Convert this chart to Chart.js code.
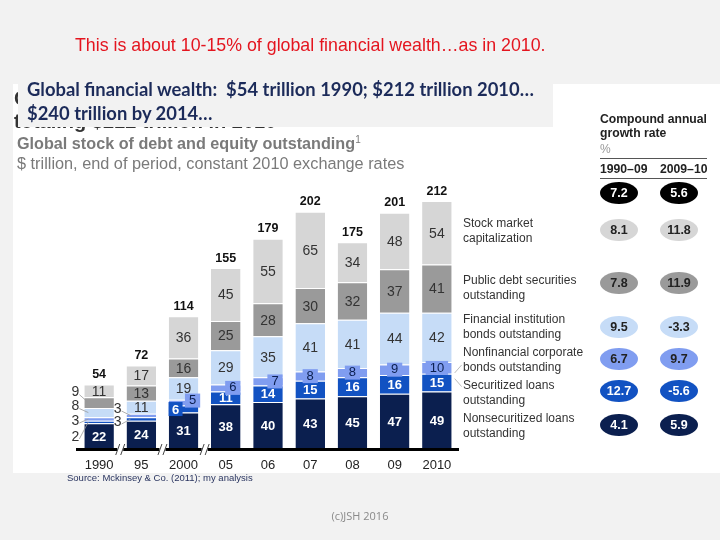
<!DOCTYPE html>
<html>
<head>
<meta charset="utf-8">
<script src="https://cdn.jsdelivr.net/npm/chart.js@4.4.1/dist/chart.umd.min.js"></script>
<style>
  body { margin: 0; width: 720px; height: 540px; background: #f2f2f2; position: relative; overflow: hidden; font-family: "Liberation Sans", Arial, sans-serif; }
  #panel { position: absolute; left: 13px; top: 84px; width: 707px; height: 389px; background: #fff; }
  #c { position: absolute; left: 0; top: 0; }
  .t { position: absolute; white-space: nowrap; }
  .rule { position: absolute; left: 600px; width: 107px; height: 0; border-top: 1px solid #555; }
</style>
</head>
<body>
<div id="panel"></div>
<canvas id="c" width="720" height="540"></canvas>

<!-- old title, mostly hidden behind the grey box -->
<div class="t" style="left:14px;top:87px;font:bold 20px 'Liberation Sans';color:#333;line-height:23px">Global financial wealth<br>totaling $212 trillion in 2010</div>
<div class="t" style="left:18px;top:83px;width:535px;height:44px;background:#f2f2f2"></div>
<div class="t" style="left:27px;top:77px;font:bold 18.4px Lato;color:#1c2b5a;line-height:24px">Global financial wealth:&nbsp; $54 trillion 1990; $212 trillion 2010…<br>$240 trillion by 2014…</div>

<div class="t" style="left:75px;top:35px;font:17.8px 'Liberation Sans';color:#e4151f">This is about 10-15% of global financial wealth…as in 2010.</div>

<div class="t" style="left:17px;top:134px;font:bold 16.2px 'Liberation Sans';color:#7a7a7a;background:#fff">Global stock of debt and equity outstanding<sup style="font-size:10px;font-weight:normal">1</sup></div>
<div class="t" style="left:17px;top:154px;font:16.3px 'Liberation Sans';color:#7a7a7a">$ trillion, end of period, constant 2010 exchange rates</div>

<div class="t" style="left:600px;top:112px;font:bold 12.2px 'Liberation Sans';color:#222;line-height:14px">Compound annual<br>growth rate</div>
<div class="t" style="left:600px;top:142px;font:12px 'Liberation Sans';color:#999">%</div>
<div class="rule" style="top:158px"></div>
<div class="t" style="left:600px;top:162px;font:bold 12.2px 'Liberation Sans';color:#222">1990–09</div>
<div class="t" style="left:660px;top:162px;width:47px;text-align:right;font:bold 12.2px 'Liberation Sans';color:#222">2009–10</div>
<div class="rule" style="top:178px"></div>

<div class="t" style="left:67px;top:472px;font:9.5px 'Liberation Sans';color:#2a3560">Source: Mckinsey &amp; Co. (2011); my analysis</div>
<div class="t" style="left:0;top:508px;width:720px;text-align:center;font:11px 'Open Sans';color:#8a8a8a">(c)JSH 2016</div>

<script>
// values in $ trillion
const years = ['1990', '95', '2000', '05', '06', '07', '08', '09', '2010'];
const nonsecLoans = [22, 24, 31, 38, 40, 43, 45, 47, 49];
const secLoans = [2, 3, 6, 11, 14, 15, 16, 16, 15];
const nonfinBonds = [3, 3, 5, 6, 7, 8, 8, 9, 10];
const finBonds = [8, 11, 19, 29, 35, 41, 41, 44, 42];
const publicDebt = [9, 13, 16, 25, 28, 30, 32, 37, 41];
const stockMarket = [11, 17, 36, 45, 55, 65, 34, 48, 54];
const totals = [54, 72, 114, 155, 179, 202, 175, 201, 212];

const seriesNames = [
  'Nonsecuritized loans\noutstanding',
  'Securitized loans\noutstanding',
  'Nonfinancial corporate\nbonds outstanding',
  'Financial institution\nbonds outstanding',
  'Public debt securities\noutstanding',
  'Stock market\ncapitalization'
];
const colors = ['#0b1f4f', '#1252c2', '#809df0', '#c6dcf7', '#9a9a9a', '#d6d6d6'];

// compound annual growth rate, % (total first, then top to bottom of the stack)
const cagr9009 = [7.2, 8.1, 7.8, 9.5, 6.7, 12.7, 4.1];
const cagr0910 = [5.6, 11.8, 11.9, -3.3, 9.7, -5.6, 5.9];

const FONT = "'Liberation Sans', Arial, sans-serif";

function txt(ctx, s, x, y, font, color, align) {
  ctx.font = font;
  ctx.fillStyle = color;
  ctx.textAlign = align || 'center';
  ctx.textBaseline = 'middle';
  ctx.fillText(s, x, y);
}

const overlay = {
  id: 'overlay',
  afterDatasetsDraw(chart) {
    const ctx = chart.ctx;
    const area = chart.chartArea;
    const xs = chart.scales.x;
    ctx.save();

    // segment labels
    chart.data.datasets.forEach((ds, d) => {
      const meta = chart.getDatasetMeta(d);
      meta.data.forEach((bar, i) => {
        const v = ds.data[i];
        const cy = (bar.y + bar.base) / 2;
        const left = bar.x - bar.width / 2;
        // small values of the first two bars are labelled outside
        const outside = i === 0 ? { 1: 15, 2: 2, 3: -6, 4: -10 } : i === 1 ? { 1: 3, 2: -6.5 } : {};
        if (outside[d] !== undefined) {
          const ly = cy + outside[d];
          const lx = left - 9;
          txt(ctx, String(v), lx, ly, '14px ' + FONT, '#333');
          ctx.strokeStyle = '#999';
          ctx.lineWidth = 0.8;
          ctx.beginPath();
          ctx.moveTo(lx + 4, ly + 2);
          ctx.lineTo(left + 4, cy);
          ctx.stroke();
          return;
        }
        if (d === 0 || d === 1) {
          let x = bar.x;
          if (d === 1 && i === 2) {
            x = bar.x - 8;
            ctx.fillStyle = ds.backgroundColor;
            ctx.fillRect(x - 7, cy - 7, 14, 14);
          }
          txt(ctx, String(v), x, cy + 1, 'bold 13px ' + FONT, '#fff');
        } else if (d === 2) {
          const dx = i === 2 ? 9 : (i === 3 || i === 4) ? 7 : 0;
          const dy = i === 2 ? -2 : 0;
          ctx.font = '13px ' + FONT;
          const w = ctx.measureText(String(v)).width + 8;
          ctx.fillStyle = ds.backgroundColor;
          ctx.fillRect(bar.x + dx - w / 2, cy + dy - 7, w, 14);
          txt(ctx, String(v), bar.x + dx, cy + dy, '13px ' + FONT, '#0b1f4f');
        } else {
          txt(ctx, String(v), bar.x, cy + 1, '14px ' + FONT, '#333');
        }
      });
    });

    // totals above the bars
    const top = chart.getDatasetMeta(5);
    top.data.forEach((bar, i) => {
      txt(ctx, String(totals[i]), bar.x, bar.y - 10, 'bold 12.5px ' + FONT, '#111');
    });

    // baseline with axis breaks
    ctx.fillStyle = '#000';
    ctx.fillRect(area.left - 2, area.bottom - 1, area.right - area.left + 3, 3);
    for (let i = 0; i < 3; i++) {
      const bx = (xs.getPixelForValue(i) + xs.getPixelForValue(i + 1)) / 2;
      ctx.fillStyle = '#fff';
      ctx.fillRect(bx - 3, area.bottom - 2, 6, 5);
      ctx.strokeStyle = '#444';
      ctx.lineWidth = 1;
      [-2.5, 2.5].forEach(o => {
        ctx.beginPath();
        ctx.moveTo(bx + o - 2, area.bottom + 6);
        ctx.lineTo(bx + o + 2, area.bottom - 5);
        ctx.stroke();
      });
    }

    // category labels
    years.forEach((y, i) => {
      txt(ctx, y, xs.getPixelForValue(i), area.bottom + 16, '13px ' + FONT, '#222');
    });

    // leader lines from the last bar to the legend
    const last = years.length - 1;
    const nf = chart.getDatasetMeta(2).data[last];
    const sl = chart.getDatasetMeta(1).data[last];
    ctx.strokeStyle = '#aaa';
    ctx.lineWidth = 0.8;
    const rx = nf.x + nf.width / 2;
    ctx.beginPath();
    ctx.moveTo(rx + 3, (nf.y + nf.base) / 2 + 5);
    ctx.lineTo(rx + 10, (nf.y + nf.base) / 2 - 3);
    ctx.moveTo(rx + 3, (sl.y + sl.base) / 2 - 4);
    ctx.lineTo(rx + 10, (sl.y + sl.base) / 2 + 4);
    ctx.stroke();

    // legend, top of stack first
    const legendY = [231, 288, 327, 360, 393, 426];
    for (let k = 0; k < 6; k++) {
      const lines = seriesNames[5 - k].split('\n');
      lines.forEach((ln, j) => {
        txt(ctx, ln, 463, legendY[k] - 7 + j * 15, '12px ' + FONT, '#333', 'left');
      });
    }

    // growth-rate ovals
    const ovalY = [193, 230, 283, 327, 359, 391, 425];
    const ovalFill = ['#000', colors[5], colors[4], colors[3], colors[2], colors[1], colors[0]];
    const ovalText = ['#fff', '#222', '#222', '#222', '#222', '#fff', '#fff'];
    [cagr9009, cagr0910].forEach((col, c) => {
      const ox = c === 0 ? 619 : 679;
      col.forEach((v, r) => {
        ctx.fillStyle = ovalFill[r];
        ctx.beginPath();
        ctx.ellipse(ox, ovalY[r], 19, 11, 0, 0, Math.PI * 2);
        ctx.fill();
        txt(ctx, v.toFixed(1), ox, ovalY[r] + 1, 'bold 12.5px ' + FONT, ovalText[r]);
      });
    });

    ctx.restore();
  }
};

const series = [nonsecLoans, secLoans, nonfinBonds, finBonds, publicDebt, stockMarket];

new Chart(document.getElementById('c'), {
  type: 'bar',
  data: {
    labels: years,
    datasets: series.map((vals, k) => ({
      label: seriesNames[k].replace('\n', ' '),
      data: vals,
      backgroundColor: colors[k],
      borderColor: '#ffffff',
      borderWidth: { top: 1, left: 0, right: 0, bottom: 0 },
      borderSkipped: false,
      barPercentage: 0.7,
      categoryPercentage: 1
    }))
  },
  options: {
    responsive: false,
    animation: false,
    devicePixelRatio: 1,
    layout: { padding: { left: 78, right: 262, top: 167, bottom: 91 } },
    scales: {
      x: { stacked: true, display: false },
      y: { stacked: true, display: false, min: 0, max: 240 }
    },
    plugins: {
      legend: { display: false },
      tooltip: { enabled: false }
    }
  },
  plugins: [overlay]
});
</script>
</body>
</html>
